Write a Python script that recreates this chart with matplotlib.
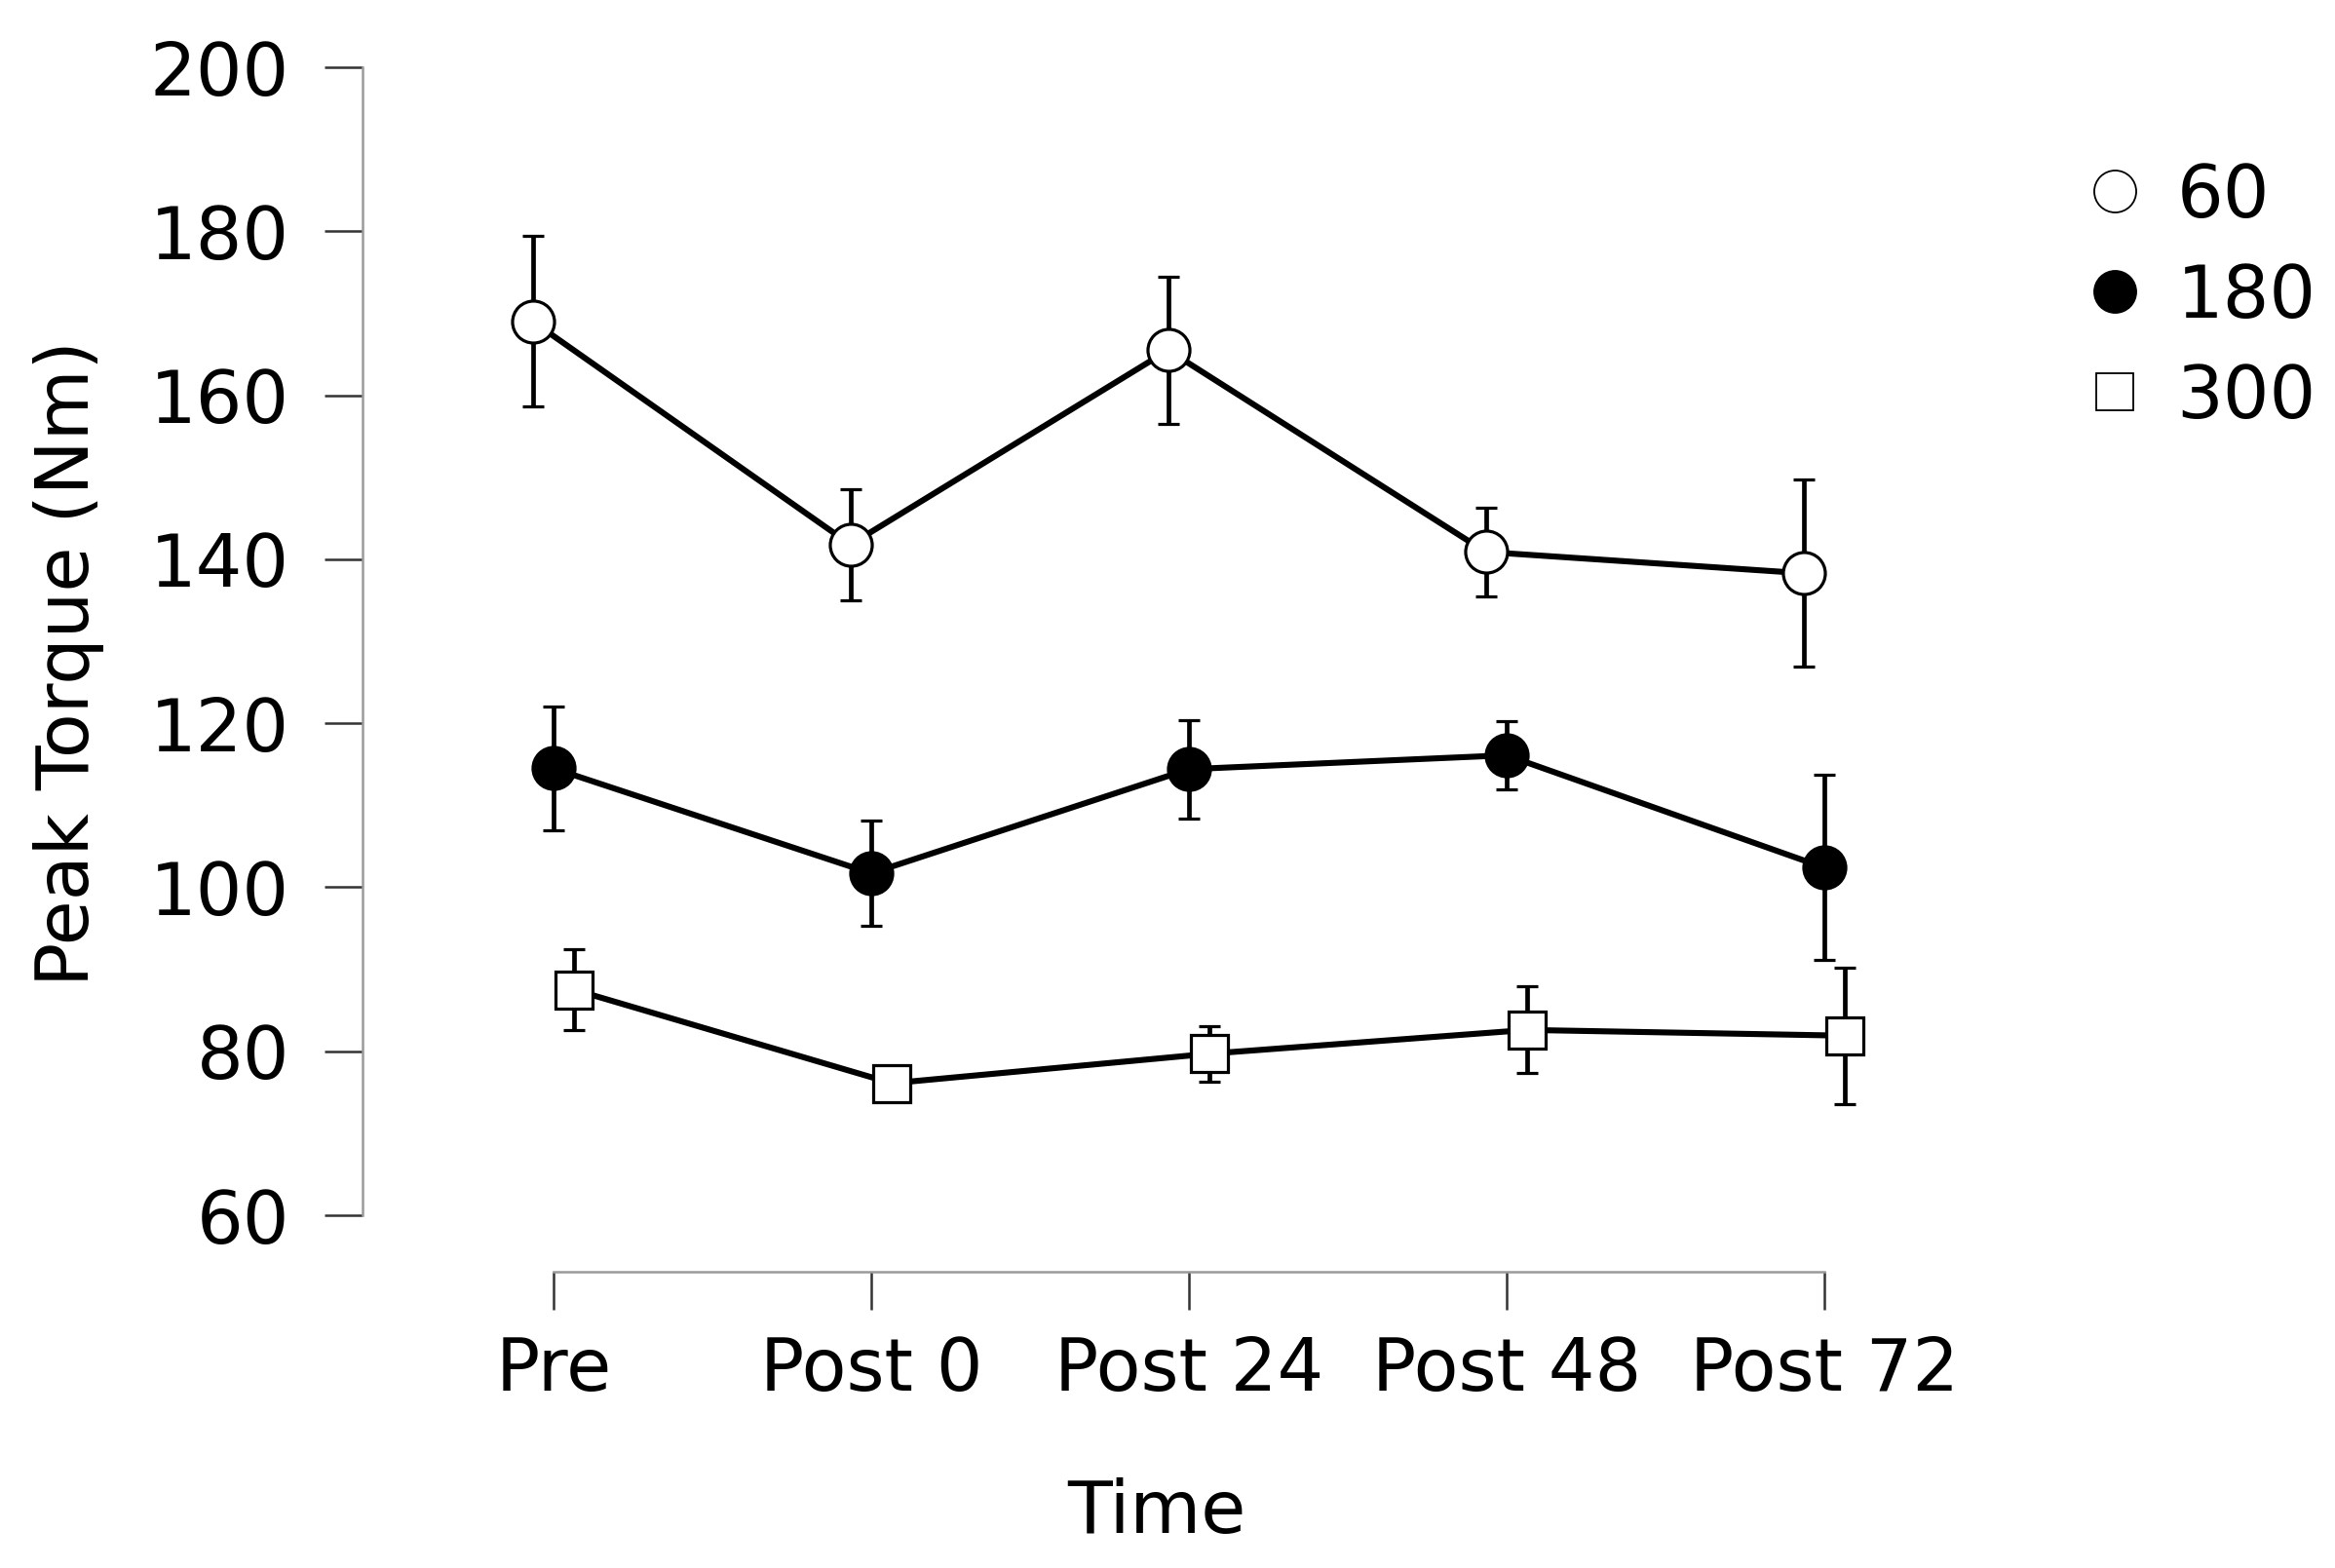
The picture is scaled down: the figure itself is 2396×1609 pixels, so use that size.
import matplotlib
matplotlib.use("Agg")
import matplotlib.pyplot as plt
import numpy as np
from matplotlib.lines import Line2D

times = ["Pre", "Post 0", "Post 24", "Post 48", "Post 72"]
speeds = ["60", "180", "300"]

torque_60 = [169.0, 141.8, 165.5, 140.9, 138.3]
sd_60 = [10.4, 6.8, 9.0, 5.4, 11.4]
torque_180 = [114.5, 101.7, 114.4, 116.1, 102.4]
sd_180 = [7.5, 6.4, 6.0, 4.2, 11.3]
torque_300 = [87.5, 76.1, 79.7, 82.6, 81.9]
sd_300 = [4.9, 1.9, 3.4, 5.3, 8.3]

y_ticks = [60, 80, 100, 120, 140, 160, 180, 200]

plt.rcParams["font.family"] = ["DejaVu Sans"]
FS = 54

fig = plt.figure(figsize=(23.96, 16.09), dpi=100)
ax = fig.add_axes([0.1553, 0.1889, 0.6803, 0.776])

x = np.arange(len(times))
series = [
    (torque_60, sd_60, "o", "white", 31, -0.065),
    (torque_180, sd_180, "o", "black", 31, 0.0),
    (torque_300, sd_300, "s", "white", 28, 0.065),
]

for vals, sds, marker, face, size, shift in series:
    ax.errorbar(x + shift, vals, yerr=sds, fmt="-", color="black", lw=4.4,
                marker=marker, markersize=size, markerfacecolor=face,
                markeredgecolor="black", markeredgewidth=2.3,
                ecolor="black", elinewidth=3.4, capsize=8, capthick=3.4,
                clip_on=False)

ax.set_xlim(-0.601, 4.4)
ax.set_ylim(53.1, 201.5)

for side in ["top", "right"]:
    ax.spines[side].set_visible(False)
ax.spines["left"].set_bounds(60, 200)
ax.spines["bottom"].set_bounds(0, 4)
for side in ["left", "bottom"]:
    ax.spines[side].set_color("#9a9a9a")
    ax.spines[side].set_linewidth(1.8)

ax.set_yticks(y_ticks)
ax.set_xticks(x)
ax.set_xticklabels(times)
ax.tick_params(axis="both", direction="out", length=28, width=1.8,
               color="#333333", labelsize=FS, labelcolor="black")
ax.tick_params(axis="y", pad=26)
ax.tick_params(axis="x", pad=19)

ax.set_ylabel("Peak Torque (Nm)", fontsize=FS, labelpad=34)
ax.set_xlabel("Time", fontsize=FS, labelpad=52)

handles = [
    Line2D([], [], ls="none", marker="o", markersize=31, markerfacecolor="white",
           markeredgecolor="black", markeredgewidth=1.3),
    Line2D([], [], ls="none", marker="o", markersize=31, markerfacecolor="black",
           markeredgecolor="black", markeredgewidth=1.3),
    Line2D([], [], ls="none", marker="s", markersize=28, markerfacecolor="white",
           markeredgecolor="black", markeredgewidth=1.3),
]
fig.legend(handles, speeds, loc="upper left", bbox_to_anchor=(0.893, 0.897),
           frameon=False, fontsize=FS, handlelength=0.8, handletextpad=0.45,
           labelspacing=0.4, borderaxespad=0, borderpad=0)

fig.savefig("out.png", dpi=100, facecolor="white")
